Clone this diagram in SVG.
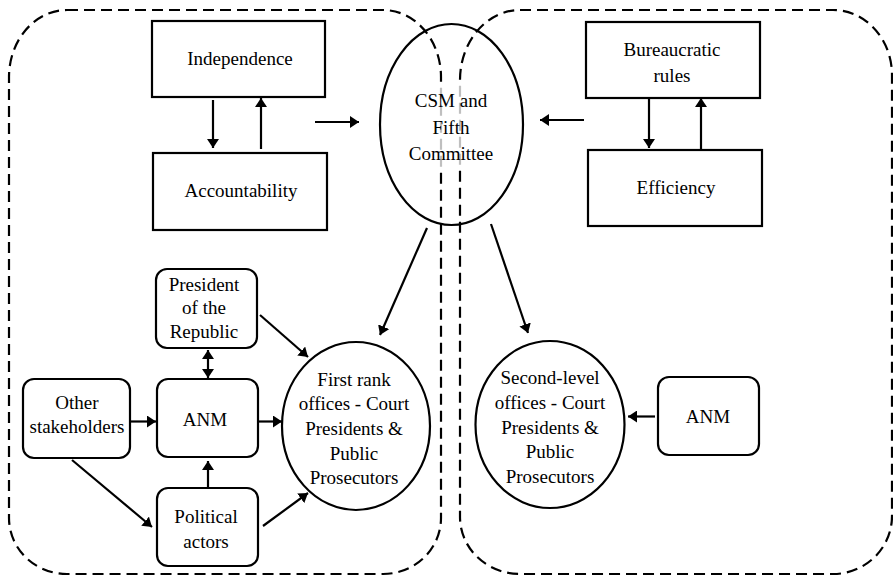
<svg xmlns="http://www.w3.org/2000/svg" width="893" height="576" viewBox="0 0 893 576">
<style>
.box{fill:#fff;stroke:#000;stroke-width:2.2}
.ell{fill:none;stroke:#000;stroke-width:2.2}
.reg{fill:none;stroke:#000;stroke-width:2.2;stroke-dasharray:11 6}
.t{font-family:"Liberation Serif","Times New Roman",serif;font-size:19px;fill:#000;text-anchor:middle}
.c{stroke:#000;stroke-width:2.2;fill:none}
</style>
<defs>
<marker id="ah" viewBox="0 0 9 12" refX="9" refY="6" markerWidth="9" markerHeight="12" markerUnits="userSpaceOnUse" orient="auto-start-reverse">
<path d="M0,0 L9,6 L0,12 z" fill="#000"/>
</marker>
</defs>
<rect width="893" height="576" fill="#fff"/>
<g id="regions">
<path class="reg" d="M67,10 H383 A58 67 0 0 1 441 77 V518 A58 56 0 0 1 383 574 H67 A58 56 0 0 1 9 518 V77 A58 67 0 0 1 67 10 Z"/>
<path class="reg" d="M520,10 H833 A59 65 0 0 1 892 75 V516 A59 58 0 0 1 833 574 H520 A60 57 0 0 1 460 517 V80 A60 70 0 0 1 520 10 Z"/>
</g>
<g id="csm">
<rect x="436" y="82" width="30" height="88" fill="#fff" opacity="0.75"/>
<ellipse class="ell" cx="451.5" cy="124.5" rx="71.5" ry="100.5"/>
<text class="t" x="451" y="107">CSM and</text>
<text class="t" x="451" y="134">Fifth</text>
<text class="t" x="451" y="160">Committee</text>
</g>
<g id="independence">
<rect class="box" x="152" y="21" width="173" height="76"/>
<text class="t" x="240" y="65">Independence</text>
</g>
<g id="accountability">
<rect class="box" x="153" y="153" width="174" height="77"/>
<text class="t" x="241" y="197">Accountability</text>
</g>
<g id="bureaucratic">
<rect class="box" x="586" y="22" width="174" height="76"/>
<text class="t" x="672" y="56">Bureaucratic</text>
<text class="t" x="672" y="82">rules</text>
</g>
<g id="efficiency">
<rect class="box" x="588" y="150" width="174" height="76"/>
<text class="t" x="676" y="194">Efficiency</text>
</g>
<g id="president">
<rect class="box" x="156" y="269" width="101" height="79" rx="11"/>
<text class="t" x="204" y="291">President</text>
<text class="t" x="204" y="314">of the</text>
<text class="t" x="204" y="338">Republic</text>
</g>
<g id="other">
<rect class="box" x="23" y="379" width="107" height="79" rx="11"/>
<text class="t" x="77" y="409">Other</text>
<text class="t" x="77" y="433">stakeholders</text>
</g>
<g id="anm-left">
<rect class="box" x="157" y="379" width="101" height="78" rx="11"/>
<text class="t" x="205" y="426">ANM</text>
</g>
<g id="political">
<rect class="box" x="157" y="488" width="101" height="78" rx="11"/>
<text class="t" x="206" y="523">Political</text>
<text class="t" x="206" y="548">actors</text>
</g>
<g id="first-rank">
<ellipse class="ell" cx="356" cy="426" rx="74" ry="84"/>
<text class="t" x="354" y="386">First rank</text>
<text class="t" x="354" y="410">offices - Court</text>
<text class="t" x="354" y="435">Presidents &amp;</text>
<text class="t" x="354" y="460">Public</text>
<text class="t" x="354" y="484">Prosecutors</text>
</g>
<g id="second-level">
<ellipse class="ell" cx="550" cy="424.5" rx="74.5" ry="83.5"/>
<text class="t" x="550" y="384">Second-level</text>
<text class="t" x="550" y="409">offices - Court</text>
<text class="t" x="550" y="434">Presidents &amp;</text>
<text class="t" x="550" y="458">Public</text>
<text class="t" x="550" y="483">Prosecutors</text>
</g>
<g id="anm-right">
<rect class="box" x="658" y="377" width="101" height="78" rx="11"/>
<text class="t" x="708" y="423">ANM</text>
</g>
<g id="connectors">
<line class="c" x1="213" y1="100" x2="213" y2="148" marker-end="url(#ah)"/>
<line class="c" x1="261" y1="149" x2="261" y2="98" marker-end="url(#ah)"/>
<line class="c" x1="315" y1="122" x2="359" y2="122" marker-end="url(#ah)"/>
<line class="c" x1="649" y1="98" x2="649" y2="148" marker-end="url(#ah)"/>
<line class="c" x1="701" y1="149" x2="701" y2="98" marker-end="url(#ah)"/>
<line class="c" x1="584" y1="120" x2="540" y2="120" marker-end="url(#ah)"/>
<line class="c" x1="427" y1="228" x2="380" y2="335" marker-end="url(#ah)"/>
<line class="c" x1="491" y1="224" x2="528" y2="333" marker-end="url(#ah)"/>
<line class="c" x1="208" y1="350" x2="208" y2="378" marker-start="url(#ah)" marker-end="url(#ah)"/>
<line class="c" x1="130" y1="421.5" x2="156" y2="421.5" marker-end="url(#ah)"/>
<line class="c" x1="258" y1="421.5" x2="282" y2="421.5" marker-end="url(#ah)"/>
<line class="c" x1="208" y1="487" x2="208" y2="461" marker-end="url(#ah)"/>
<line class="c" x1="72" y1="460" x2="152" y2="527" marker-end="url(#ah)"/>
<line class="c" x1="263" y1="526" x2="308" y2="493" marker-end="url(#ah)"/>
<line class="c" x1="260" y1="315" x2="308" y2="357" marker-end="url(#ah)"/>
<line class="c" x1="655" y1="416.5" x2="628" y2="416.5" marker-end="url(#ah)"/>
</g>
</svg>
